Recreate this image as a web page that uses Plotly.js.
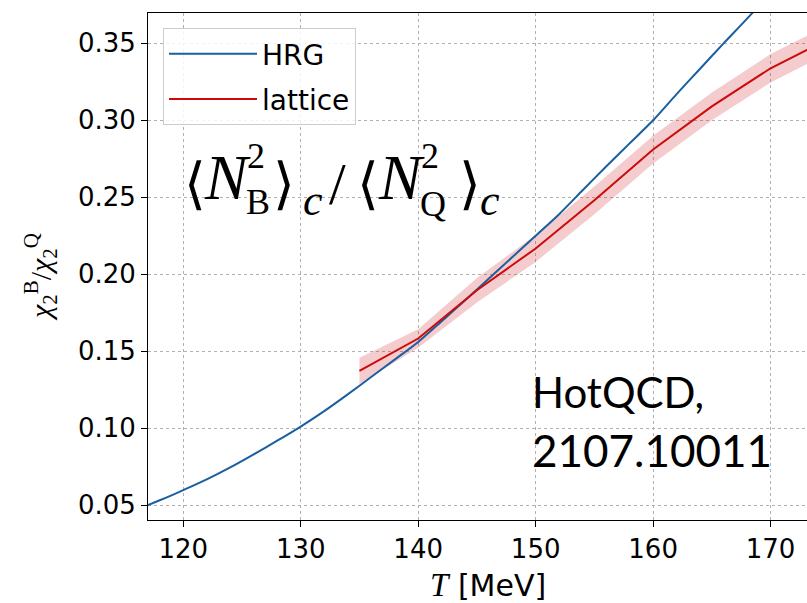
<!DOCTYPE html>
<html>
<head>
<meta charset="utf-8">
<script src="https://cdn.plot.ly/plotly-3.0.1.min.js"></script>
<style>html,body{margin:0;padding:0;background:#fff;}#chart{width:807px;height:603px;}</style>
</head>
<body>
<div id="chart"></div>
<script>
// HRG curve (T in MeV)
const hrgT = [117,118,119,120,122,124,126,128,130,132,134,136,138,140,142,144,146,148,150,152,154,156,158,160,162,164,166,168,170,172,174];
const hrgVal = [0.0500,0.0531,0.0563,0.0597,0.0667,0.0745,0.0830,0.0918,0.1010,0.1110,0.1219,0.1332,0.1445,0.1560,0.1695,0.1830,0.1970,0.2110,0.2250,0.2390,0.2545,0.2700,0.2850,0.3000,0.3170,0.3335,0.3500,0.3660,0.3830,0.4000,0.4170];

// Lattice (HotQCD) central values and errors
const latT = [135,140,145,150,155,160,165,170,175];
const latVal = [0.1372,0.1582,0.1896,0.2167,0.2480,0.2810,0.3090,0.3338,0.3530];
const latErr = [0.0085,0.0060,0.0080,0.0087,0.0090,0.0090,0.0090,0.0092,0.0092];

const xTicks = [120,130,140,150,160,170];
const yTicks = [0.05,0.10,0.15,0.20,0.25,0.30,0.35];

const latLo = latVal.map((v,i)=>v-latErr[i]);
const latHi = latVal.map((v,i)=>v+latErr[i]);

const blue = '#1a5fa0';
const red = '#cc0a0a';

const traces = [
  {x: latT, y: latLo, mode:'lines', line:{width:0, color:'rgba(0,0,0,0)'}, showlegend:false, hoverinfo:'skip'},
  {x: latT, y: latHi, mode:'lines', line:{width:0, color:'rgba(0,0,0,0)'}, fill:'tonexty', fillcolor:'rgba(215,40,45,0.24)', showlegend:false, hoverinfo:'skip'},
  {x: hrgT, y: hrgVal, mode:'lines', name:'HRG', line:{color:blue, width:2, shape:'spline', smoothing:0.8}, legendgroup:'a'},
  {x: latT, y: latVal, mode:'lines', name:'lattice', line:{color:red, width:2}, legendgroup:'b'}
];

const L = 148, R = 807, T0 = 13, B0 = 520;
const px = x => (x - L) / (R - L);
const py = y => (B0 - y) / (B0 - T0);

const serif = 'Liberation Serif, DejaVu Serif, serif';
const pieces = [
  ['⟨', 183, 184, 56],
  ['<i>N</i>', 203, 177, 64],
  ['2', 246, 156, 36],
  ['B', 245, 202, 36],
  ['⟩', 272, 184, 56],
  ['<i>c</i>', 302, 200, 44],
  ['/', 328, 184, 60],
  ['⟨', 356, 184, 56],
  ['<i>N</i>', 377, 177, 64],
  ['2', 420, 156, 36],
  ['Q', 419, 204, 36],
  ['⟩', 458, 184, 56],
  ['<i>c</i>', 479, 200, 44]
];
const annotations = pieces.map(p => ({
  text: p[0], xref:'paper', yref:'paper', x: px(p[1]), y: py(p[2]),
  xanchor:'left', yanchor:'middle', showarrow:false, borderpad:0,
  font:{family: serif, size: p[3], color:'#000'}
}));
annotations.push({
  text:'HotQCD,', xref:'paper', yref:'paper', x: px(531), y: py(392),
  xanchor:'left', yanchor:'middle', showarrow:false, borderpad:0,
  font:{family:'Lato, Open Sans, sans-serif', size:42, color:'#000'}
});
annotations.push({
  text:'2107.10011', xref:'paper', yref:'paper', x: px(531), y: py(449.5),
  xanchor:'left', yanchor:'middle', showarrow:false, borderpad:0,
  font:{family:'Lato, Open Sans, sans-serif', size:44, color:'#000'}
});
annotations.push({
  text:'<i>χ</i><sub>2</sub><sup>B</sup>/<i>χ</i><sub>2</sub><sup>Q</sup>', xref:'paper', yref:'paper',
  x: px(40), y: py(277), xanchor:'center', yanchor:'middle', textangle:-90, showarrow:false, borderpad:0,
  font:{family: serif, size:30, color:'#000'}
});
annotations.push({
  text:'<span style="font-family:Liberation Serif;font-size:33px"><i>T</i></span> [MeV]', xref:'paper', yref:'paper',
  x: px(488), y: py(585), xanchor:'center', yanchor:'middle', showarrow:false, borderpad:0,
  font:{family:'DejaVu Sans', size:30, color:'#000'}
});

const layout = {
  width: 807, height: 603,
  margin: {l: L, r: 0, t: T0, b: 603 - B0, pad: 0},
  paper_bgcolor:'#fff', plot_bgcolor:'#fff',
  showlegend: true,
  legend: {
    x: px(163), y: py(28), xanchor:'left', yanchor:'top',
    bgcolor:'rgba(255,255,255,0.85)', bordercolor:'#cccccc', borderwidth:1,
    font:{family:'DejaVu Sans', size:28, color:'#000'},
    tracegroupgap: 6, itemwidth: 88
  },
  xaxis: {
    range:[117, 173.1], tickvals: xTicks, ticktext: xTicks.map(String),
    showline:true, linecolor:'#000', linewidth:1, mirror:true,
    ticks:'outside', ticklen:6, tickwidth:1, tickcolor:'#000',
    showgrid:true, gridcolor:'#b0b0b0', griddash:'dot', gridwidth:1,
    zeroline:false, automargin:false,
    tickfont:{family:'DejaVu Sans', size:26, color:'#000'}
  },
  yaxis: {
    range:[0.0403, 0.3697], tickvals: yTicks, ticktext: yTicks.map(v=>v.toFixed(2)),
    showline:true, linecolor:'#000', linewidth:1, mirror:false,
    ticks:'outside', ticklen:6, tickwidth:1, tickcolor:'#000',
    showgrid:true, gridcolor:'#b0b0b0', griddash:'dot', gridwidth:1,
    zeroline:false, automargin:false,
    tickfont:{family:'DejaVu Sans', size:26, color:'#000'}
  },
  annotations: annotations
};

Plotly.newPlot('chart', traces, layout, {staticPlot:true, displayModeBar:false});
</script>
</body>
</html>
